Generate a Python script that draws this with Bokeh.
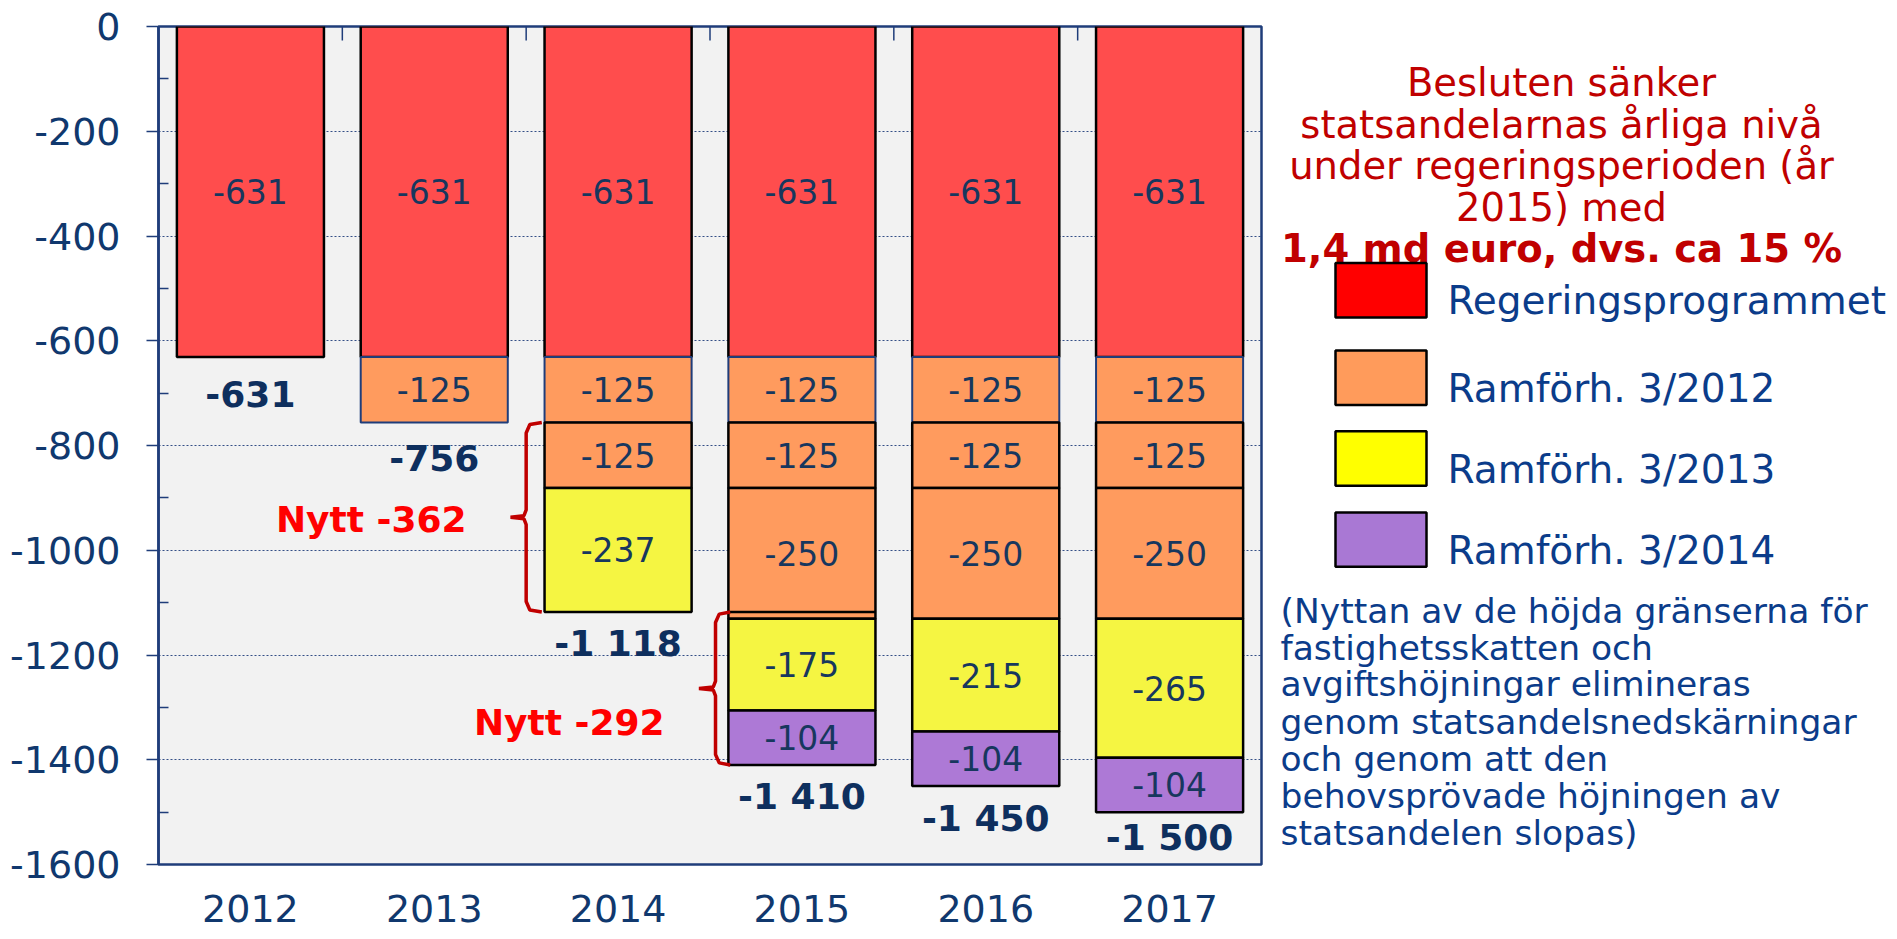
from bokeh.plotting import figure
from bokeh.models import ColumnDataSource, Range1d, FixedTicker
from bokeh.layouts import row
from bokeh.embed import file_html
from bokeh.resources import INLINE
from bokeh.core.properties import value

# ---------------- data ----------------
years = ["2012", "2013", "2014", "2015", "2016", "2017"]
regeringsprogrammet = [-631, -631, -631, -631, -631, -631]
ramforh_2012_steg1 = [0, -125, -125, -125, -125, -125]
ramforh_2012_steg2 = [0, 0, -125, -125, -125, -125]
ramforh_2012_steg3 = [0, 0, 0, -250, -250, -250]
ramforh_2013 = [0, 0, -237, -175, -215, -265]
ramforh_2014 = [0, 0, 0, -104, -104, -104]

y_ticks = [0, -200, -400, -600, -800, -1000, -1200, -1400, -1600]
y_tick_labels = ["0", "-200", "-400", "-600", "-800", "-1000", "-1200", "-1400", "-1600"]
y_minor_ticks = [-100, -300, -500, -700, -900, -1100, -1300, -1500]

legend_labels = ["Regeringsprogrammet", "Ramförh. 3/2012", "Ramförh. 3/2013", "Ramförh. 3/2014"]
title_lines = ["Besluten sänker", "statsandelarnas årliga nivå",
               "under regeringsperioden (år", "2015) med"]
title_bold = "1,4 md euro, dvs. ca 15 %"
note_lines = ["(Nyttan av de höjda gränserna för", "fastighetsskatten och",
              "avgiftshöjningar elimineras", "genom statsandelsnedskärningar",
              "och genom att den", "behovsprövade höjningen av",
              "statsandelen slopas)"]

# ---------------- styles ----------------
FONT_NAME = "DejaVu Sans"
FONT = value(FONT_NAME)
NAVY = "#1F3D7A"
TICK_TXT = "#10386E"
SEG_TXT = "#17375E"
TOT_TXT = "#0E2F5E"
LEG_TXT = "#0B3C8A"
RED_TXT = "#C00000"

C_RED, C_ORANGE, C_YELLOW, C_PURPLE = "#FF4D4D", "#FF9B5E", "#F5F542", "#AD79D6"
L_RED, L_ORANGE, L_YELLOW, L_PURPLE = "#FF0000", "#FF9B5B", "#FFFF00", "#A978D4"

centers = [i + 0.5 for i in range(len(years))]
boundaries = [i for i in range(1, len(years))]

p = figure(width=1265, height=939, x_range=Range1d(0, 6), y_range=Range1d(-1600, 0),
           output_backend="svg", toolbar_location=None,
           min_border_left=158, min_border_right=4, min_border_top=26, min_border_bottom=75,
           background_fill_color="#F2F2F2", border_fill_color="white")
p.outline_line_color = NAVY
p.outline_line_width = 2.5

# y axis
ya = p.yaxis[0]
ya.ticker = FixedTicker(ticks=y_ticks, minor_ticks=y_minor_ticks)
ya.major_label_overrides = {t: s for t, s in zip(y_ticks, y_tick_labels)}
ya.major_label_text_font = FONT_NAME
ya.major_label_text_font_size = "38px"
ya.major_label_text_color = TICK_TXT
ya.major_tick_out = 12
ya.major_tick_in = 0
ya.minor_tick_in = 10
ya.minor_tick_out = 0
ya.major_label_standoff = 26
ya.axis_line_color = NAVY
ya.axis_line_width = 2.5
ya.major_tick_line_color = NAVY
ya.major_tick_line_width = 1.5
ya.minor_tick_line_color = NAVY
ya.minor_tick_line_width = 1.5

# x axis (bottom labels)
xa = p.xaxis[0]
xa.ticker = FixedTicker(ticks=centers)
xa.major_label_overrides = {c: y for c, y in zip(centers, years)}
xa.major_label_text_font = FONT_NAME
xa.major_label_text_font_size = "38px"
xa.major_label_text_color = TICK_TXT
xa.major_tick_in = 0
xa.major_tick_out = 0
xa.minor_tick_in = 0
xa.minor_tick_out = 0
xa.axis_line_color = None
xa.major_label_standoff = 30

p.xgrid.visible = False
p.ygrid.ticker = FixedTicker(ticks=y_ticks[1:-1])
p.ygrid.grid_line_color = NAVY
p.ygrid.grid_line_dash = "2 2"
p.ygrid.grid_line_width = 1
p.ygrid.grid_line_alpha = 0.9

# category separator ticks along the top (value-axis origin)
tick_len = 14 / (838 / 1600)  # 14 px in data units
p.segment(x0=boundaries, x1=boundaries, y0=[0] * len(boundaries),
          y1=[-tick_len] * len(boundaries), line_color=NAVY, line_width=1.5)

# ---------------- stacked bars ----------------
layers = [
    (regeringsprogrammet, C_RED, "black", 2.5),
    (ramforh_2012_steg1, C_ORANGE, NAVY, 2),
    (ramforh_2012_steg2, C_ORANGE, "black", 2.5),
    (ramforh_2012_steg3, C_ORANGE, "black", 2.5),
    (ramforh_2013, C_YELLOW, "black", 2.5),
    (ramforh_2014, C_PURPLE, "black", 2.5),
]
base = [0] * len(years)
for vals, fill, lc, lw in layers:
    xs, tops, bots, mids, labs = [], [], [], [], []
    for i, v in enumerate(vals):
        if v != 0:
            xs.append(centers[i]); tops.append(base[i]); bots.append(base[i] + v)
            mids.append(base[i] + v / 2); labs.append(str(v))
        base[i] += v
    src = ColumnDataSource(dict(x=xs, top=tops, bottom=bots, mid=mids, lab=labs))
    p.vbar(x="x", top="top", bottom="bottom", width=0.8, source=src,
           fill_color=fill, line_color=lc, line_width=lw)
    p.text(x="x", y="mid", text="lab", source=src, text_font=FONT, text_font_size="33px",
           text_color=SEG_TXT, text_align="center", text_baseline="middle")

totals = base[:]

# 2015: outline of the previous (2014) level
p.segment(x0=[centers[3] - 0.4], x1=[centers[3] + 0.4], y0=[totals[2]], y1=[totals[2]],
          line_color="black", line_width=2.5)

def fmt_total(v):
    return "-" + f"{abs(v):,}".replace(",", " ")

total_offsets = [37, 36, 31, 32, 33, 25]
for x, t, off in zip(centers, totals, total_offsets):
    p.text(x=[x], y=[t], text=[fmt_total(t)], text_font=FONT, text_font_style="bold",
           text_font_size="36px", text_color=TOT_TXT, text_align="center",
           text_baseline="middle", y_offset=off)

# ---------------- braces ----------------
def brace(xv, xh, xt, ytop, ybot):
    ymid = (ytop + ybot) / 2
    xs = [xh, xv + 0.02, xv, xv, xv - 0.012, xt, xv - 0.012, xv, xv, xv + 0.02, xh]
    ys = [ytop, ytop - 4, ytop - 20, ymid + 14, ymid + 3, ymid, ymid - 3, ymid - 14,
          ybot + 20, ybot + 4, ybot]
    return xs, ys

b1x, b1y = brace(2.0, 2.085, 1.915, totals[1], totals[2])
b2x, b2y = brace(3.03, 3.11, 2.94, totals[2], totals[3])
p.multi_line(xs=[b1x, b2x], ys=[b1y, b2y], line_color=RED_TXT, line_width=3.5)

nytt = [totals[2] - totals[1], totals[3] - totals[2]]
p.text(x=[1.676], y=[(totals[1] + totals[2]) / 2], text=[f"Nytt {nytt[0]}"],
       text_font=FONT, text_font_style="bold", text_font_size="36px", text_color="#FF0000",
       text_align="right", text_baseline="middle", y_offset=2)
p.text(x=[2.753], y=[(totals[2] + totals[3]) / 2], text=[f"Nytt {nytt[1]}"],
       text_font=FONT, text_font_style="bold", text_font_size="36px", text_color="#FF0000",
       text_align="right", text_baseline="middle", y_offset=34)

# ---------------- right panel ----------------
q = figure(width=628, height=939, x_range=Range1d(1265, 1893), y_range=Range1d(939, 0),
           output_backend="svg", toolbar_location=None, min_border=0,
           background_fill_color="white", border_fill_color="white")
q.axis.visible = False
q.grid.visible = False
q.outline_line_color = None

title_y = [63.3, 110, 156.3, 202.7]
q.text(x=[1561] * len(title_lines), y=title_y, text=title_lines, text_font=FONT,
       text_font_size="38.5px", text_color=RED_TXT, text_align="center",
       text_baseline="alphabetic")
q.text(x=[1561], y=[249.3], text=[title_bold], text_font=FONT, text_font_style="bold",
       text_font_size="38.5px", text_color=RED_TXT, text_align="center",
       text_baseline="alphabetic")

box_y = [295.5, 393.5, 484, 575]
q.rect(x=[1380.5] * 4, y=box_y, width=91, height=61,
       fill_color=[L_RED, L_ORANGE, L_YELLOW, L_PURPLE], line_color="black", line_width=2.5)
q.text(x=[1447] * 4, y=[306.7, 406, 496, 586.7], text=legend_labels, text_font=FONT,
       text_font_size="39px", text_color=LEG_TXT, text_align="left",
       text_baseline="alphabetic")

note_y = [655, 696.7, 737.3, 779.3, 821, 861.7, 903.3]
q.text(x=[1280] * len(note_lines), y=note_y, text=note_lines, text_font=FONT,
       text_font_size="34.5px", text_color=LEG_TXT, text_align="left",
       text_baseline="alphabetic")

layout = row(p, q)
open("out.html", "w").write(file_html(layout, INLINE))
